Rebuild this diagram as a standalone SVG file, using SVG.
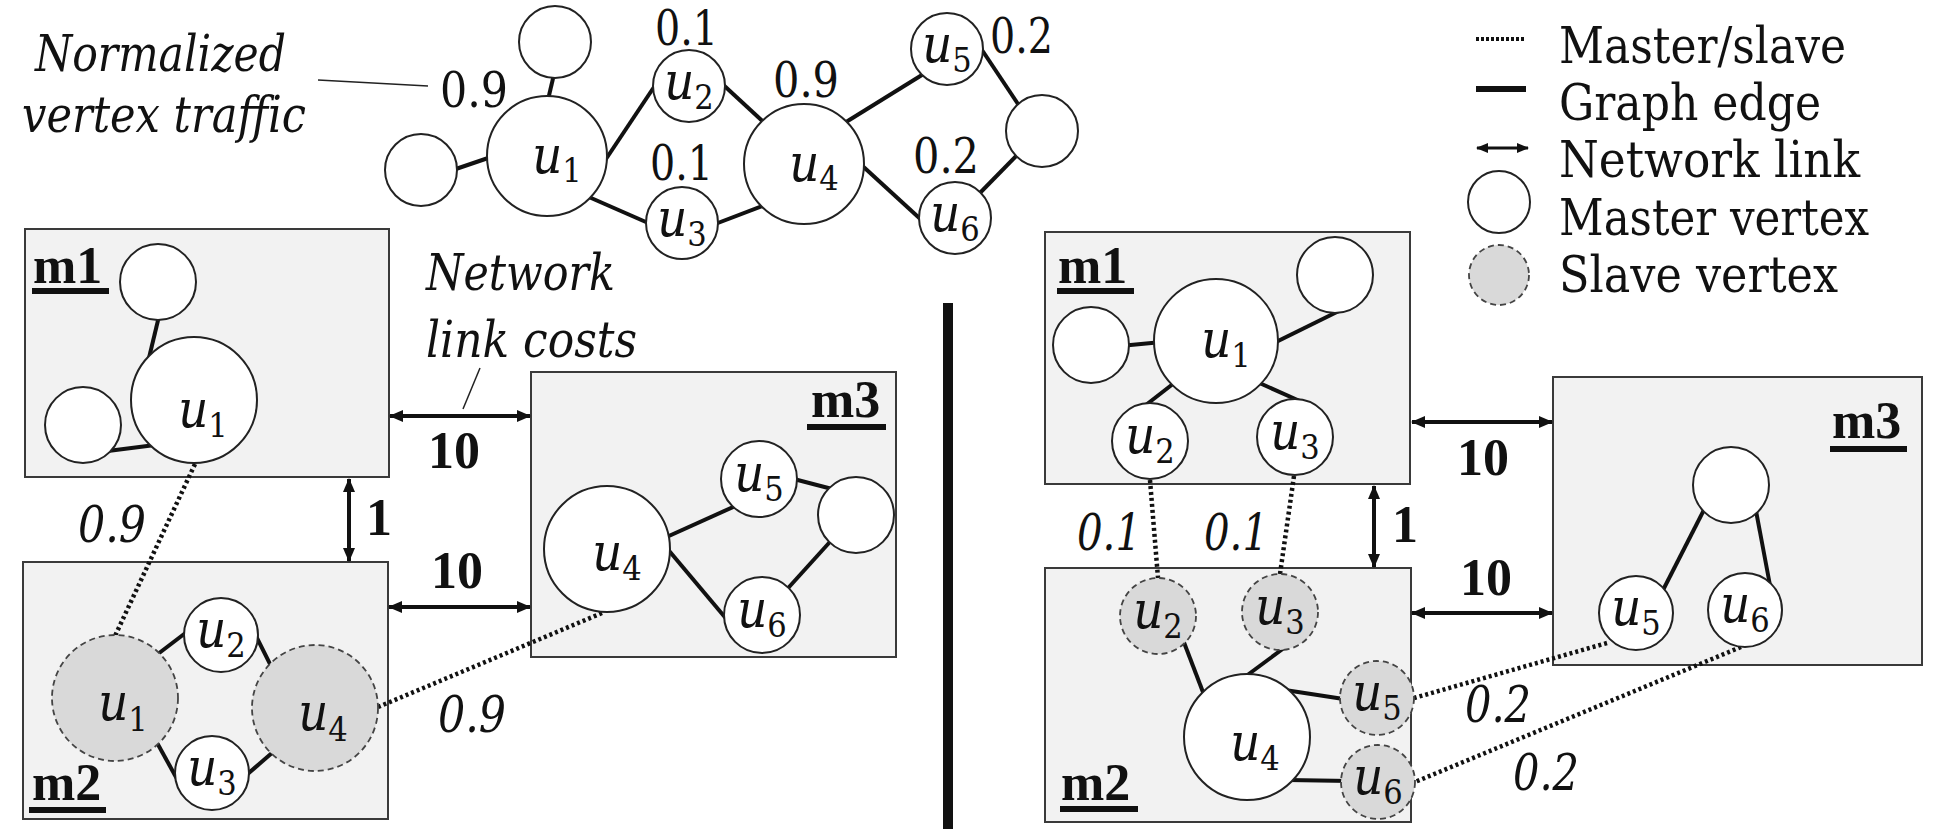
<svg xmlns="http://www.w3.org/2000/svg" width="1934" height="829" viewBox="0 0 1934 829">
  <style>
    text { fill: #111; font-family: 'DejaVu Serif Condensed', 'DejaVu Serif', serif; }
    .box { fill: #f2f2f2; stroke: #3a3a3a; stroke-width: 2; }
    .v { fill: #fff; stroke: #222; stroke-width: 2; }
    .s { fill: #d9d9d9; stroke: #444; stroke-width: 1.8; stroke-dasharray: 6 4; }
    .e { stroke: #111; stroke-width: 4; fill: none; }
    .d { stroke: #111; stroke-width: 4.5; stroke-dasharray: 3 3; fill: none; }
    .ln { stroke: #111; stroke-width: 4; fill: none; marker-start: url(#head); marker-end: url(#head); }
    .lead { stroke: #222; stroke-width: 1.5; fill: none; }
    .num { font-size: 49px; }
    .it { font-size: 50px; font-style: italic; }
    .b { font-size: 52px; font-weight: bold; font-family: 'Liberation Serif', 'Times New Roman', serif; }
    .u { font-size: 52px; font-style: italic; text-anchor: middle; }
    .sub { font-size: 34px; font-style: normal; }
    .lg { font-size: 50px; }
  </style>
  <defs>
    <marker id="head" viewBox="0 0 14 12" refX="13" refY="6" markerWidth="14" markerHeight="12" markerUnits="userSpaceOnUse" orient="auto-start-reverse">
      <path d="M0,0 L14,6 L0,12 z" fill="#111"/>
    </marker>
    <marker id="headS" viewBox="0 0 12 10" refX="11" refY="5" markerWidth="12" markerHeight="10" markerUnits="userSpaceOnUse" orient="auto-start-reverse">
      <path d="M0,0 L12,5 L0,10 z" fill="#111"/>
    </marker>
  </defs>

  <!-- annotations -->
  <g id="annotations">
    <text class="it" x="35" y="71" textLength="251" lengthAdjust="spacingAndGlyphs">Normalized</text>
    <text class="it" x="22" y="132" textLength="284" lengthAdjust="spacingAndGlyphs">vertex traffic</text>
    <line class="lead" x1="318" y1="80" x2="428" y2="86"/>
    <text class="it" x="426" y="290" textLength="189" lengthAdjust="spacingAndGlyphs">Network</text>
    <text class="it" x="426" y="357" textLength="211" lengthAdjust="spacingAndGlyphs">link costs</text>
    <line class="lead" x1="480" y1="368" x2="463" y2="409"/>
    <rect x="943" y="303" width="10" height="526" fill="#111"/>
  </g>

  <!-- machine boxes -->
  <g id="left-m1"><rect class="box" x="25" y="229" width="364" height="248"/>
    <text class="b" x="33" y="283">m1</text><rect x="32" y="288" width="77" height="6" fill="#111"/></g>
  <g id="left-m2"><rect class="box" x="23" y="562" width="365" height="257"/>
    <text class="b" x="32" y="800">m2</text><rect x="29" y="807" width="77" height="6" fill="#111"/></g>
  <g id="left-m3"><rect class="box" x="531" y="372" width="365" height="285"/>
    <text class="b" x="811" y="417">m3</text><rect x="807" y="424" width="79" height="6" fill="#111"/></g>
  <g id="right-m1"><rect class="box" x="1045" y="232" width="365" height="252"/>
    <text class="b" x="1058" y="283">m1</text><rect x="1057" y="288" width="77" height="6" fill="#111"/></g>
  <g id="right-m2"><rect class="box" x="1045" y="568" width="366" height="254"/>
    <text class="b" x="1061" y="800">m2</text><rect x="1060" y="806" width="78" height="6" fill="#111"/></g>
  <g id="right-m3"><rect class="box" x="1553" y="377" width="369" height="288"/>
    <text class="b" x="1832" y="438">m3</text><rect x="1830" y="446" width="77" height="6" fill="#111"/></g>

  <!-- connectors -->
  <g id="connectors">
    <!-- graph edges, top graph -->
    <line class="e" x1="555" y1="70" x2="547" y2="104"/>
    <line class="e" x1="450" y1="171" x2="494" y2="156"/>
    <line class="e" x1="600" y1="168" x2="660" y2="78"/>
    <line class="e" x1="582" y1="194" x2="655" y2="226"/>
    <line class="e" x1="718" y1="80" x2="770" y2="128"/>
    <line class="e" x1="710" y1="226" x2="770" y2="203"/>
    <line class="e" x1="838" y1="127" x2="930" y2="70"/>
    <line class="e" x1="856" y1="160" x2="928" y2="226"/>
    <line class="e" x1="978" y1="44" x2="1022" y2="110"/>
    <line class="e" x1="975" y1="198" x2="1022" y2="150"/>
    <!-- left m1 -->
    <line class="e" x1="160" y1="312" x2="148" y2="362"/>
    <line class="e" x1="100" y1="452" x2="155" y2="445"/>
    <!-- left m2 -->
    <line class="e" x1="150" y1="660" x2="192" y2="628"/>
    <line class="e" x1="252" y1="628" x2="278" y2="680"/>
    <line class="e" x1="150" y1="730" x2="182" y2="788"/>
    <line class="e" x1="243" y1="778" x2="280" y2="746"/>
    <!-- left m3 -->
    <line class="e" x1="660" y1="540" x2="742" y2="503"/>
    <line class="e" x1="790" y1="478" x2="836" y2="490"/>
    <line class="e" x1="660" y1="540" x2="734" y2="628"/>
    <line class="e" x1="780" y1="597" x2="838" y2="533"/>
    <!-- right m1 -->
    <line class="e" x1="1120" y1="346" x2="1162" y2="342"/>
    <line class="e" x1="1270" y1="345" x2="1345" y2="308"/>
    <line class="e" x1="1178" y1="380" x2="1142" y2="408"/>
    <line class="e" x1="1255" y1="381" x2="1302" y2="402"/>
    <!-- right m2 -->
    <line class="e" x1="1180" y1="632" x2="1206" y2="700"/>
    <line class="e" x1="1284" y1="648" x2="1238" y2="682"/>
    <line class="e" x1="1285" y1="690" x2="1350" y2="700"/>
    <line class="e" x1="1288" y1="780" x2="1350" y2="781"/>
    <!-- right m3 -->
    <line class="e" x1="1709" y1="500" x2="1660" y2="596"/>
    <line class="e" x1="1754" y1="500" x2="1772" y2="596"/>

    <!-- master/slave links -->
    <line class="d" x1="195" y1="464" x2="115" y2="636"/>
    <line class="d" x1="602" y1="613" x2="378" y2="707"/>
    <line class="d" x1="1150" y1="480" x2="1158" y2="578"/>
    <line class="d" x1="1294" y1="476" x2="1280" y2="574"/>
    <line class="d" x1="1607" y1="643" x2="1414" y2="698"/>
    <line class="d" x1="1741" y1="647" x2="1415" y2="782"/>

    <!-- network links -->
    <line class="ln" x1="390" y1="416" x2="530" y2="416"/>
    <line class="ln" x1="389" y1="607" x2="530" y2="607"/>
    <line class="ln" x1="349" y1="479" x2="349" y2="561"/>
    <line class="ln" x1="1412" y1="422" x2="1552" y2="422"/>
    <line class="ln" x1="1412" y1="613" x2="1552" y2="613"/>
    <line class="ln" x1="1374" y1="486" x2="1374" y2="567"/>

    <!-- costs and traffic labels -->
    <text class="b" x="428" y="468">10</text>
    <text class="b" x="431" y="588">10</text>
    <text class="b" x="366" y="535">1</text>
    <text class="b" x="1457" y="475">10</text>
    <text class="b" x="1460" y="595">10</text>
    <text class="b" x="1392" y="542">1</text>
    <text class="it" x="78" y="542" textLength="68" lengthAdjust="spacingAndGlyphs">0.9</text>
    <text class="it" x="438" y="732" textLength="68" lengthAdjust="spacingAndGlyphs">0.9</text>
    <text class="it" x="1077" y="550" textLength="64" lengthAdjust="spacingAndGlyphs">0.1</text>
    <text class="it" x="1204" y="550" textLength="64" lengthAdjust="spacingAndGlyphs">0.1</text>
    <text class="it" x="1465" y="722" textLength="66" lengthAdjust="spacingAndGlyphs">0.2</text>
    <text class="it" x="1513" y="790" textLength="66" lengthAdjust="spacingAndGlyphs">0.2</text>
    <text class="num" x="440" y="107" textLength="68" lengthAdjust="spacingAndGlyphs">0.9</text>
    <text class="num" x="655" y="45" textLength="63" lengthAdjust="spacingAndGlyphs">0.1</text>
    <text class="num" x="650" y="180" textLength="63" lengthAdjust="spacingAndGlyphs">0.1</text>
    <text class="num" x="773" y="97" textLength="66" lengthAdjust="spacingAndGlyphs">0.9</text>
    <text class="num" x="990" y="53" textLength="63" lengthAdjust="spacingAndGlyphs">0.2</text>
    <text class="num" x="913" y="173" textLength="66" lengthAdjust="spacingAndGlyphs">0.2</text>
  </g>

  <!-- top graph vertices -->
  <g id="top-a"><circle class="v" cx="555" cy="42" r="36"/></g>
  <g id="top-b"><circle class="v" cx="421" cy="170" r="36"/></g>
  <g id="top-c"><circle class="v" cx="1042" cy="131" r="36"/></g>
  <g id="top-u1"><circle class="v" cx="547" cy="156" r="60"/>
    <text class="u" x="557" y="173">u<tspan class="sub" dy="9">1</tspan></text></g>
  <g id="top-u2"><circle class="v" cx="689" cy="86" r="36"/>
    <text class="u" x="689" y="99">u<tspan class="sub" dy="10">2</tspan></text></g>
  <g id="top-u3"><circle class="v" cx="682" cy="223" r="36"/>
    <text class="u" x="682" y="236">u<tspan class="sub" dy="10">3</tspan></text></g>
  <g id="top-u4"><circle class="v" cx="804" cy="164" r="60"/>
    <text class="u" x="814" y="181">u<tspan class="sub" dy="9">4</tspan></text></g>
  <g id="top-u5"><circle class="v" cx="947" cy="49" r="36"/>
    <text class="u" x="947" y="62">u<tspan class="sub" dy="10">5</tspan></text></g>
  <g id="top-u6"><circle class="v" cx="955" cy="218" r="36"/>
    <text class="u" x="955" y="231">u<tspan class="sub" dy="10">6</tspan></text></g>

  <!-- left layout vertices -->
  <g id="l1-a"><circle class="v" cx="158" cy="282" r="38"/></g>
  <g id="l1-b"><circle class="v" cx="83" cy="425" r="38"/></g>
  <g id="l1-u1"><circle class="v" cx="194" cy="400" r="63"/>
    <text class="u" x="203" y="427">u<tspan class="sub" dy="10">1</tspan></text></g>
  <g id="l2-u1"><circle class="s" cx="115" cy="698" r="63"/>
    <text class="u" x="123" y="720">u<tspan class="sub" dy="11">1</tspan></text></g>
  <g id="l2-u4"><circle class="s" cx="315" cy="708" r="63"/>
    <text class="u" x="323" y="730">u<tspan class="sub" dy="11">4</tspan></text></g>
  <g id="l2-u2"><circle class="v" cx="221" cy="635" r="37"/>
    <text class="u" x="221" y="647">u<tspan class="sub" dy="10">2</tspan></text></g>
  <g id="l2-u3"><circle class="v" cx="212" cy="773" r="37"/>
    <text class="u" x="212" y="785">u<tspan class="sub" dy="10">3</tspan></text></g>
  <g id="l3-u4"><circle class="v" cx="607" cy="549" r="63"/>
    <text class="u" x="617" y="570">u<tspan class="sub" dy="10">4</tspan></text></g>
  <g id="l3-u5"><circle class="v" cx="759" cy="479" r="38"/>
    <text class="u" x="759" y="491">u<tspan class="sub" dy="10">5</tspan></text></g>
  <g id="l3-c"><circle class="v" cx="856" cy="515" r="38"/></g>
  <g id="l3-u6"><circle class="v" cx="762" cy="615" r="38"/>
    <text class="u" x="762" y="627">u<tspan class="sub" dy="10">6</tspan></text></g>

  <!-- right layout vertices -->
  <g id="r1-a"><circle class="v" cx="1091" cy="345" r="38"/></g>
  <g id="r1-b"><circle class="v" cx="1335" cy="275" r="38"/></g>
  <g id="r1-u1"><circle class="v" cx="1216" cy="341" r="62"/>
    <text class="u" x="1226" y="357">u<tspan class="sub" dy="10">1</tspan></text></g>
  <g id="r1-u2"><circle class="v" cx="1150" cy="441" r="38"/>
    <text class="u" x="1150" y="453">u<tspan class="sub" dy="10">2</tspan></text></g>
  <g id="r1-u3"><circle class="v" cx="1295" cy="437" r="38"/>
    <text class="u" x="1295" y="449">u<tspan class="sub" dy="10">3</tspan></text></g>
  <g id="r2-u2"><circle class="s" cx="1158" cy="616" r="38"/>
    <text class="u" x="1158" y="628">u<tspan class="sub" dy="10">2</tspan></text></g>
  <g id="r2-u3"><circle class="s" cx="1280" cy="612" r="38"/>
    <text class="u" x="1280" y="624">u<tspan class="sub" dy="10">3</tspan></text></g>
  <g id="r2-u5"><circle class="s" cx="1377" cy="698" r="37"/>
    <text class="u" x="1377" y="710">u<tspan class="sub" dy="10">5</tspan></text></g>
  <g id="r2-u6"><circle class="s" cx="1378" cy="782" r="37"/>
    <text class="u" x="1378" y="794">u<tspan class="sub" dy="10">6</tspan></text></g>
  <g id="r2-u4"><circle class="v" cx="1247" cy="737" r="63"/>
    <text class="u" x="1255" y="760">u<tspan class="sub" dy="10">4</tspan></text></g>
  <g id="r3-c"><circle class="v" cx="1731" cy="485" r="38"/></g>
  <g id="r3-u5"><circle class="v" cx="1636" cy="613" r="37"/>
    <text class="u" x="1636" y="625">u<tspan class="sub" dy="10">5</tspan></text></g>
  <g id="r3-u6"><circle class="v" cx="1745" cy="610" r="37"/>
    <text class="u" x="1745" y="622">u<tspan class="sub" dy="10">6</tspan></text></g>

  <!-- legend -->
  <g id="legend">
    <line x1="1476" y1="39" x2="1526" y2="39" stroke="#111" stroke-width="4" stroke-dasharray="3 2"/>
    <text class="lg" x="1559" y="63" textLength="287" lengthAdjust="spacingAndGlyphs">Master/slave</text>
    <line x1="1476" y1="89" x2="1526" y2="89" stroke="#111" stroke-width="6"/>
    <text class="lg" x="1559" y="120" textLength="262" lengthAdjust="spacingAndGlyphs">Graph edge</text>
    <line x1="1477" y1="148" x2="1528" y2="148" stroke="#111" stroke-width="3" marker-start="url(#headS)" marker-end="url(#headS)"/>
    <text class="lg" x="1559" y="177" textLength="301" lengthAdjust="spacingAndGlyphs">Network link</text>
    <circle class="v" cx="1499" cy="202" r="31"/>
    <text class="lg" x="1559" y="235" textLength="310" lengthAdjust="spacingAndGlyphs">Master vertex</text>
    <circle class="s" cx="1499" cy="275" r="30"/>
    <text class="lg" x="1559" y="292" textLength="279" lengthAdjust="spacingAndGlyphs">Slave vertex</text>
  </g>
</svg>
